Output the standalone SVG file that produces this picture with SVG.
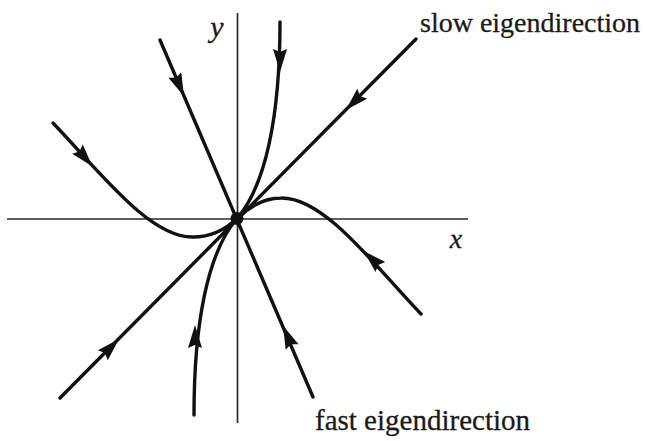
<svg xmlns="http://www.w3.org/2000/svg" width="646" height="441" viewBox="0 0 646 441">
<style>
.axis{stroke:#2a2a2a;stroke-width:1.7;fill:none}
.traj{stroke:#111;stroke-width:3.4;fill:none;stroke-linecap:round}
.lbl{font-family:"Liberation Serif","Times New Roman",serif;fill:#1a1a1a;stroke:#1a1a1a;stroke-width:0.3}
.it{font-style:italic}
</style>
<defs>
<path id="ah" d="M10,0 L-13,-7 L-10,0 L-13,7 Z" fill="#111"/>
</defs>
<rect width="646" height="441" fill="#fff"/>
<g id="axes">
<line class="axis" x1="7" y1="219" x2="468" y2="219"/>
<line class="axis" x1="237.5" y1="13" x2="237.5" y2="423"/>
</g>
<g id="connectors">
<path id="fast" class="traj" d="M160,40 L313,397"/>
<path id="slow" class="traj" d="M416,39 L60,398"/>
<path id="top" class="traj" d="M280,22 C280,115 266,185 237,218.5"/>
<path id="bottom" class="traj" d="M194,415 C194,322 208,252 237,218.5"/>
<path id="left" class="traj" d="M53,123 C100,172 150,238 193,237 C210,237 225,230 237,218.5"/>
<path id="right" class="traj" d="M421,314 C374,265 324,197 281,198 C264,198 249,207 237,218.5"/>
<use href="#ah" transform="translate(180,87) rotate(66.7)"/>
<use href="#ah" transform="translate(287,335) rotate(-113.1)"/>
<use href="#ah" transform="translate(353,103) rotate(135)"/>
<use href="#ah" transform="translate(112,346) rotate(-45)"/>
<use href="#ah" transform="translate(280,62) rotate(90)"/>
<use href="#ah" transform="translate(195,335) rotate(-90)"/>
<use href="#ah" transform="translate(86,159) rotate(49)"/>
<use href="#ah" transform="translate(371,258) rotate(224)"/>
</g>
<g id="origin">
<circle cx="237" cy="218.5" r="6.5" fill="#111"/>
</g>
<g id="labels">
<text class="lbl it" x="217" y="37" font-size="30" text-anchor="middle">y</text>
<text class="lbl it" x="456" y="248" font-size="28" text-anchor="middle">x</text>
<text class="lbl" x="420" y="32" font-size="28">slow eigendirection</text>
<text class="lbl" x="315" y="430" font-size="29">fast eigendirection</text>
</g>
</svg>
